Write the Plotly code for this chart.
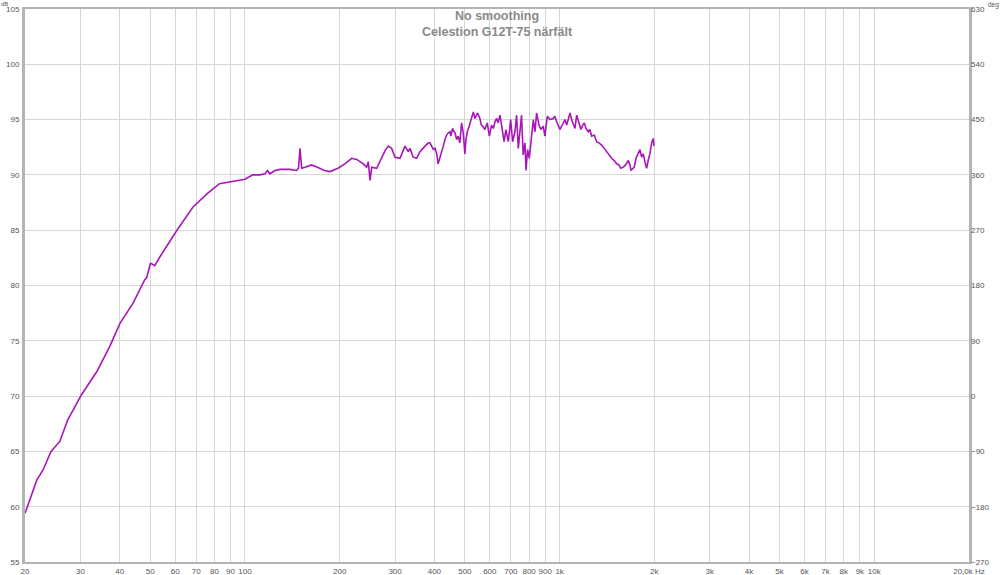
import math
import plotly.graph_objects as go

# ---- data ----
freq_hz = [
    20.0, 20.74, 21.8, 22.8, 24.2, 25.8, 27.3, 30.2, 33.8, 37.2, 40.1, 44.1, 46.2, 48.0, 48.7,
    50.1, 51.0, 51.7, 53.7, 60.8, 68.4, 75.9, 83.0, 91.5, 100.0, 106.0, 111.6, 115.8, 118.0,
    120.0, 124.6, 129.3, 139.1, 146.0, 148.0, 149.6, 151.5, 155.3, 162.5, 170.0, 179.0, 186.3,
    197.6, 207.8, 218.4, 226.6, 237.7, 243.6, 246.6, 249.8, 252.9, 262.2, 272.0, 278.8, 285.5,
    292.6, 299.8, 311.0, 322.6, 330.5, 334.6, 342.6, 351.3, 360.0, 373.4, 382.5,
    387, 392, 397, 402, 407, 411, 416, 422, 427, 432, 437.5, 443, 448.5, 451, 457, 462, 465,
    471, 476, 482, 488, 494, 500, 504, 509, 516, 522, 526.5, 532, 538, 545, 549, 558, 564,
    570, 579, 589, 598, 608, 616, 623, 631, 638, 646, 654, 659, 666, 675, 687, 699, 709, 721,
    730, 739, 748, 757, 766, 776, 782, 791, 801, 815, 825, 835, 845, 860, 872, 887, 898, 914,
    932, 955,
    966, 978.5, 990, 1002, 1015, 1027, 1040, 1053, 1065.5, 1079, 1092, 1105, 1119, 1133, 1146,
    1161, 1169, 1184, 1198, 1213, 1233, 1248, 1264, 1288, 1311, 1333, 1360, 1386, 1411, 1435,
    1463, 1491, 1518, 1544, 1563, 1593, 1621, 1653, 1674, 1685, 1706, 1727, 1749, 1770, 1787,
    1800, 1822, 1844, 1867, 1890, 1912, 1936, 1961, 1984, 1994,
]
spl_db = [
    59.4, 60.6, 62.4, 63.3, 65.0, 65.9, 67.8, 70.1, 72.2, 74.5, 76.6, 78.4, 79.6, 80.5, 80.7,
    82.0, 81.9, 81.8, 82.6, 85.0, 87.1, 88.3, 89.2, 89.4, 89.6, 90.0, 90.0, 90.1, 90.4,
    90.1, 90.4, 90.5, 90.5, 90.4, 90.6, 92.4, 90.6, 90.7, 90.9, 90.7, 90.4, 90.3,
    90.6, 91.0, 91.5, 91.4, 91.0, 90.7, 91.2, 89.5, 90.7, 90.6, 91.6, 92.2, 92.6,
    92.4, 91.6, 91.5, 92.6, 92.1, 92.4, 91.6, 91.5, 92.1, 92.6, 92.9,
    92.9, 92.6, 92.3, 92.4, 91.9, 91.0, 91.5, 91.9, 92.6, 93.2, 93.6, 93.8, 93.9, 93.5, 94.2,
    93.9, 93.8, 93.2, 93.5, 92.9, 94.7, 93.8, 91.9, 93.2, 93.9, 94.4, 95.0, 95.3, 95.7, 95.1,
    95.4, 95.6, 95.1, 94.5, 94.4, 94.1, 94.7, 93.5, 94.5, 94.2, 94.8, 95.1, 94.7, 95.4, 94.5,
    93.8, 93.0, 94.1, 93.0, 95.0, 93.0, 93.9, 95.4, 92.4, 93.8, 95.4, 91.8, 92.9, 90.4, 92.3,
    91.5, 93.8, 95.0, 93.9, 95.6, 94.5, 94.1, 94.4, 93.5, 95.3, 95.0, 95.1,
    95.3, 94.8, 94.5, 94.1, 94.4, 94.7, 95.0, 94.5, 95.1, 95.6, 95.0, 94.5, 94.2, 95.4, 95.0,
    94.4, 94.1, 94.5, 94.7, 94.2, 93.9, 94.1, 93.5, 93.6, 93.0, 92.9, 92.7, 92.4, 92.1, 91.9,
    91.5, 91.3, 91.0, 90.9, 90.6, 90.7, 90.9, 91.3, 90.9, 90.4, 90.6, 90.7, 91.5, 91.9, 92.1,
    92.3, 91.6, 91.9, 91.2, 90.6, 91.3, 91.9, 92.9, 93.3, 92.6,
]

x_tick_values = [20, 30, 40, 50, 60, 70, 80, 90, 100, 200, 300, 400, 500, 600, 700, 800, 900,
                 1000, 2000, 3000, 4000, 5000, 6000, 7000, 8000, 9000, 10000, 20000]
x_tick_labels = ["20", "30", "40", "50", "60", "70", "80", "90", "100", "200", "300", "400",
                 "500", "600", "700", "800", "900", "1k", "2k", "3k", "4k", "5k", "6k", "7k",
                 "8k", "9k", "10k", "20,0k Hz"]
db_ticks = [55, 60, 65, 70, 75, 80, 85, 90, 95, 100, 105]
deg_ticks = [-270, -180, -90, 0, 90, 180, 270, 360, 450, 540, 630]

title_lines = ["No smoothing", "Celestion G12T-75 närfält"]

# ---- figure ----
FONT = "Liberation Sans"
TICK_COLOR = "#555555"
GRID = "#d6d6d6"
FRAME = "#b4b4b4"

fig = go.Figure()
fig.add_trace(go.Scatter(
    x=freq_hz, y=spl_db, mode="lines",
    line=dict(color="#a816b8", width=1.6),
    hoverinfo="skip", showlegend=False,
))
# invisible trace to make the right (degree) axis appear
fig.add_trace(go.Scatter(
    x=[freq_hz[0]], y=[deg_ticks[0]], mode="markers", yaxis="y2",
    marker=dict(opacity=0), hoverinfo="skip", showlegend=False,
))

fig.update_layout(
    width=1000, height=575,
    margin=dict(l=25, r=31, t=9, b=13),
    paper_bgcolor="white", plot_bgcolor="white",
    font=dict(family=FONT, size=8, color=TICK_COLOR),
    xaxis=dict(
        type="log", range=[math.log10(20), math.log10(20000)],
        tickmode="array", tickvals=x_tick_values, ticktext=x_tick_labels,
        showgrid=True, gridcolor=GRID, gridwidth=1,
        showline=True, linecolor=FRAME, linewidth=2, mirror=True,
        ticks="", ticklen=0, zeroline=False,
        tickfont=dict(size=8, color=TICK_COLOR), automargin=False,
    ),
    yaxis=dict(
        range=[55, 105], tickmode="array", tickvals=db_ticks,
        showgrid=True, gridcolor=GRID, gridwidth=1,
        showline=True, linecolor=FRAME, linewidth=3, mirror=True,
        ticks="", zeroline=False, ticklabelstandoff=1,
        tickfont=dict(size=8, color=TICK_COLOR), automargin=False,
    ),
    yaxis2=dict(
        range=[-270, 630], overlaying="y", side="right",
        tickmode="array", tickvals=deg_ticks,
        showgrid=False, zeroline=False, showline=False, ticks="",
        ticklabelstandoff=1,
        tickfont=dict(size=8, color=TICK_COLOR), automargin=False,
    ),
    annotations=[
        dict(text="<b>" + "<br>".join(title_lines) + "</b>", x=0.5, y=1.0,
             xref="paper", yref="paper",
             xanchor="center", yanchor="top", showarrow=False, yshift=2,
             font=dict(family=FONT, size=12.5, color="#8a8a8a")),
        dict(text="dB", x=0, y=1, xref="paper", yref="paper", xanchor="left",
             yanchor="top", showarrow=False, xshift=-25, yshift=9, borderpad=0,
             font=dict(size=6, color=TICK_COLOR)),
        dict(text="deg", x=1, y=1, xref="paper", yref="paper", xanchor="right",
             yanchor="top", showarrow=False, xshift=31, yshift=9, borderpad=0,
             font=dict(size=6.5, color=TICK_COLOR)),
    ],
)

fig.write_html(
    "out.html",
    config={"displayModeBar": False},
    post_script="document.body.style.margin='0';document.body.style.padding='0';",
)
